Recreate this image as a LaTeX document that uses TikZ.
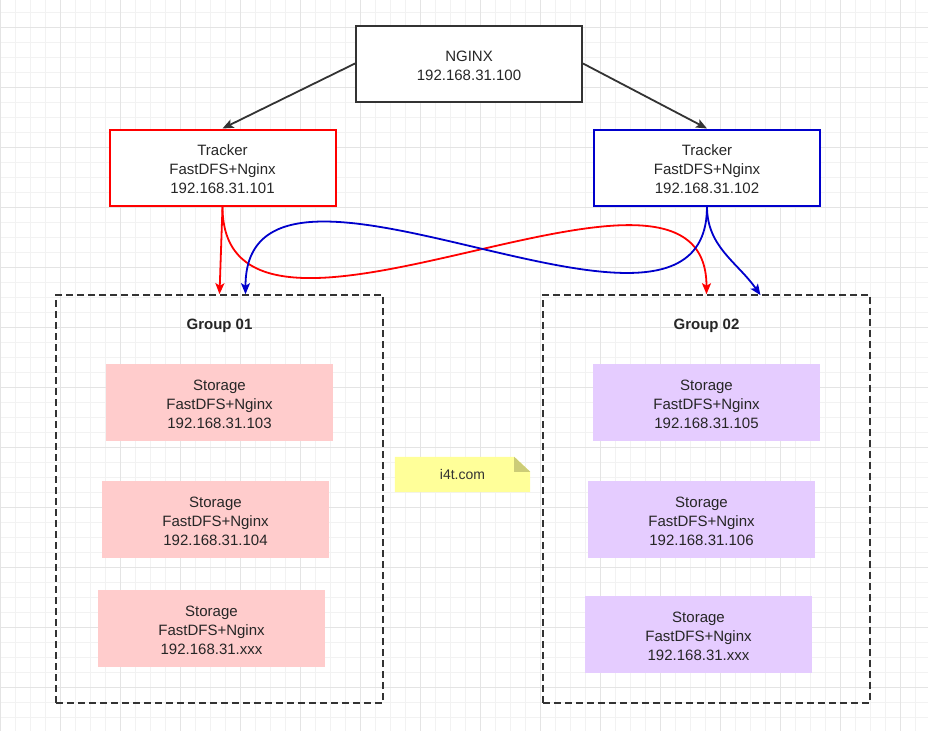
\documentclass[tikz,border=0pt]{standalone}
\usepackage{fontspec}
\setmainfont{Liberation Sans}
\usetikzlibrary{
  arrows.meta,
  positioning,
  calc
}
\definecolor{storred}{HTML}{FFCCCC}
\definecolor{storviolet}{HTML}{E5CCFF}
\definecolor{noteyellow}{HTML}{FFFF99}
\definecolor{notefold}{HTML}{CCCC77}
\definecolor{edgegray}{HTML}{333333}
\definecolor{linkred}{HTML}{FF0000}
\definecolor{linkblue}{HTML}{0000CC}
\definecolor{gridminor}{HTML}{F2F2F2}
\definecolor{gridmajor}{HTML}{E4E4E4}
\tikzset{
  % Host box (outlined)
  hostbox/.style={
    draw=#1, line width=2pt, fill=white,
    minimum width=226pt, minimum height=76pt,
    align=center, text=black!85,
    font=\fontsize{15}{19}\selectfont
  },
  % Storage box (filled, no outline)
  storbox/.style={
    fill=#1,
    minimum width=227pt, minimum height=77pt,
    align=center, text=black!85, text height=53pt,
    font=\fontsize{15}{19}\selectfont
  },
  % Dashed group frame
  groupbox/.style={
    draw=edgegray, line width=1.6pt, dash pattern=on 7pt off 4pt,
    minimum width=327pt, minimum height=408pt
  },
  % Group title
  grouptitle/.style={
    font=\fontsize{15}{19}\selectfont\bfseries, text=black!85
  },
  % Standard arrow
  myarrow/.style={
    -{Stealth[length=11pt, width=9pt, inset=2.5pt]}, line width=1.8pt, draw=#1
  },
}

\begin{document}
\begin{tikzpicture}[x=1pt, y=-1pt]

% ── Background grid ───────────────────────────────────────────────────────────
\useasboundingbox (0,0) rectangle (928,731);
\fill[white] (0,0) rectangle (928,731);
\foreach \gx in {0,15,...,928}{
  \draw[gridminor, line width=0.8pt] (\gx,0) -- (\gx,731);
}
\foreach \gy in {12,27,...,731}{
  \draw[gridminor, line width=0.8pt] (0,\gy) -- (928,\gy);
}
\foreach \gx in {0,60,...,928}{
  \draw[gridmajor, line width=0.8pt] (\gx,0) -- (\gx,731);
}
\foreach \gy in {27,87,...,731}{
  \draw[gridmajor, line width=0.8pt] (0,\gy) -- (928,\gy);
}

% ── Load balancer and trackers ────────────────────────────────────────────────
\node[hostbox=edgegray, text height=34pt] (nginx) at (469,63.5)
  {NGINX\\192.168.31.100};

\node[hostbox=linkred, text height=53pt] (trackA) at (222.5,167.5)
  {Tracker\\FastDFS+Nginx\\192.168.31.101};
\node[hostbox=linkblue, text height=53pt] (trackB) at (707,167.5)
  {Tracker\\FastDFS+Nginx\\192.168.31.102};

% ── Storage groups ────────────────────────────────────────────────────────────
\node[groupbox] (grpA) at (219.5,499) {};
\node[groupbox] (grpB) at (706.5,499) {};

\node[grouptitle, below=21pt of grpA.north] (titleA) {Group 01};
\node[grouptitle, below=21pt of grpB.north] (titleB) {Group 02};

\node[storbox=storred] (storA1) at (219.5,402.5)
  {Storage\\FastDFS+Nginx\\192.168.31.103};
\node[storbox=storred] (storA2) at (215.5,519.5)
  {Storage\\FastDFS+Nginx\\192.168.31.104};
\node[storbox=storred] (storA3) at (211.5,628.5)
  {Storage\\FastDFS+Nginx\\192.168.31.xxx};

\node[storbox=storviolet] (storB1) at (706.5,402.5)
  {Storage\\FastDFS+Nginx\\192.168.31.105};
\node[storbox=storviolet] (storB2) at (701.5,519.5)
  {Storage\\FastDFS+Nginx\\192.168.31.106};
\node[storbox=storviolet] (storB3) at (698.5,634.5)
  {Storage\\FastDFS+Nginx\\192.168.31.xxx};

% ── Note ──────────────────────────────────────────────────────────────────────
\node[minimum width=135pt, minimum height=35pt] (note) at (462.5,474.5) {};
\fill[noteyellow] (note.south west) -- (note.north west)
  -- ($(note.north east)+(-16,0)$) -- ($(note.north east)+(0,15)$)
  -- (note.south east) -- cycle;
\fill[notefold] ($(note.north east)+(-16,0)$) -- ($(note.north east)+(0,15)$)
  -- ($(note.north east)+(-16,15)$) -- cycle;
\node[text=black!80, font=\fontsize{14}{17}\selectfont] (notetext)
  at (note.center) {i4t.com};

% ── Connectors ────────────────────────────────────────────────────────────────
\coordinate (inA) at ($(grpA.north)+(26,0)$);
\coordinate (inB) at ($(grpB.north)+(54,1)$);

\draw[myarrow=edgegray] (nginx.west) -- (trackA.north);
\draw[myarrow=edgegray] (nginx.east) -- (trackB.north);

\draw[myarrow=linkred] (trackA.south) -- (grpA.north);
\draw[myarrow=linkred] (trackA.south)
  .. controls +(0,200) and +(0,-190) .. (grpB.north);

\draw[myarrow=linkblue] (trackB.south)
  .. controls +(0,190) and +(0,-195) .. (inA);
\draw[myarrow=linkblue] (trackB.south) to[out=-90, in=125] (inB);

\end{tikzpicture}
\end{document}
